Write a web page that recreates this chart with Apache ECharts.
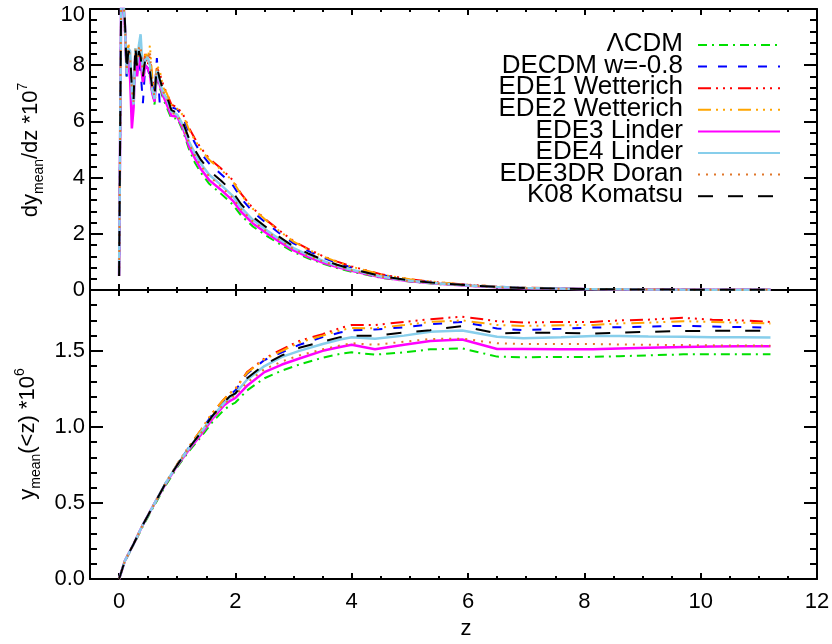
<!DOCTYPE html>
<html>
<head>
<meta charset="utf-8">
<script src="https://cdn.jsdelivr.net/npm/echarts@6/dist/echarts.min.js"></script>
<style>
html, body { margin: 0; padding: 0; background: #ffffff; }
#chart { width: 832px; height: 644px; }
</style>
</head>
<body>
<div id="chart"></div>
<script>
// Model names, in legend order
const modelNames = ['ΛCDM', 'DECDM w=-0.8', 'EDE1 Wetterich', 'EDE2 Wetterich',
  'EDE3 Linder', 'EDE4 Linder', 'EDE3DR Doran', 'K08 Komatsu'];

// Redshift samples of the differential curves (upper panel)
const zDiff = [0.00, 0.04, 0.07, 0.10, 0.13, 0.16, 0.19, 0.22, 0.25, 0.28, 0.31, 0.34, 0.37,
  0.41, 0.45, 0.49, 0.53, 0.57, 0.61, 0.65, 0.70, 0.76, 0.82, 0.90,
  1.00, 1.10, 1.20, 1.30, 1.40, 1.55, 1.75, 1.95, 2.10, 2.30, 2.55, 2.75, 3.00, 3.25, 3.50,
  3.75, 4.00, 4.50, 5.00, 5.50, 6.00, 6.50, 7.00, 8.00, 9.00, 10.00, 11.20];

// dy_mean/dz * 1e7 for each model
const dydzLCDM = [0.5, 11.3, 10.3, 9.3, 7.6, 8.3, 8.2, 7.0, 6.6, 8.5, 7.7, 8.3, 8.1, 7.4, 8.0, 7.9, 7.6, 7.0, 6.6, 7.6, 7.2, 6.8, 6.5, 6.1,
  6.11, 5.65, 5.02, 4.55, 4.19, 3.78, 3.43, 3.05, 2.65, 2.26, 1.91, 1.65, 1.35, 1.13, 0.94, 0.78, 0.65, 0.435, 0.3, 0.21, 0.15, 0.096, 0.06, 0.03, 0.016, 0.009, 0.004];
const dydzDECDM = [0.5, 11.3, 10.2, 9.3, 7.6, 8.3, 8.1, 7.3, 6.9, 8.4, 7.7, 8.1, 7.8, 6.65, 8.0, 7.9, 7.6, 7.3, 7.0, 8.25, 6.6, 7.0, 6.8, 6.5,
  6.43, 6.13, 5.62, 5.25, 4.88, 4.5, 4.13, 3.75, 3.26, 2.78, 2.35, 2.03, 1.66, 1.39, 1.16, 0.96, 0.8, 0.54, 0.36, 0.26, 0.18, 0.12, 0.075, 0.037, 0.019, 0.011, 0.005];
const dydzEDE1 = [0.5, 11.6, 10.8, 9.2, 8.1, 8.7, 8.0, 7.0, 7.3, 8.5, 8.2, 8.6, 8.0, 7.9, 8.4, 8.0, 8.3, 7.5, 7.1, 7.9, 7.7, 7.3, 7.0, 6.6,
  6.5, 6.25, 5.78, 5.4, 5.07, 4.68, 4.33, 3.92, 3.42, 2.91, 2.46, 2.13, 1.74, 1.46, 1.21, 1.01, 0.84, 0.56, 0.38, 0.27, 0.19, 0.12, 0.08, 0.04, 0.02, 0.012, 0.006];
const dydzEDE2 = [0.5, 11.4, 10.6, 9.4, 7.9, 8.8, 8.3, 7.1, 6.9, 8.6, 8.3, 8.7, 8.4, 7.8, 8.5, 8.2, 8.7, 7.6, 7.0, 8.0, 7.8, 7.2, 7.0, 6.6,
  6.45, 6.22, 5.72, 5.35, 5.02, 4.63, 4.29, 3.89, 3.39, 2.89, 2.44, 2.11, 1.72, 1.44, 1.2, 1.0, 0.83, 0.55, 0.38, 0.27, 0.19, 0.12, 0.08, 0.04, 0.02, 0.011, 0.006];
const dydzEDE3 = [0.5, 11.4, 10.3, 9.4, 7.7, 8.2, 7.5, 5.75, 6.5, 8.5, 7.6, 8.3, 8.1, 7.4, 8.0, 7.9, 7.7, 7.0, 6.7, 7.7, 7.3, 6.9, 6.6, 6.2,
  6.17, 5.74, 5.13, 4.7, 4.32, 3.91, 3.57, 3.19, 2.78, 2.37, 2.0, 1.73, 1.41, 1.18, 0.98, 0.82, 0.68, 0.455, 0.31, 0.22, 0.155, 0.1, 0.064, 0.032, 0.016, 0.009, 0.005];
const dydzEDE4 = [0.5, 11.5, 10.4, 9.5, 7.7, 8.6, 8.5, 7.0, 6.6, 8.6, 8.0, 8.7, 9.1, 7.7, 8.2, 8.3, 8.0, 7.1, 6.8, 7.8, 7.4, 7.0, 6.8, 6.35,
  6.24, 5.86, 5.29, 4.88, 4.51, 4.1, 3.74, 3.36, 2.93, 2.5, 2.11, 1.82, 1.49, 1.25, 1.04, 0.86, 0.72, 0.48, 0.33, 0.23, 0.16, 0.105, 0.067, 0.034, 0.017, 0.01, 0.005];
const dydzEDE3DR = [0.5, 11.5, 10.5, 9.5, 7.8, 8.6, 8.3, 7.1, 6.7, 8.6, 8.0, 8.6, 8.7, 7.7, 8.3, 8.2, 8.5, 7.2, 6.9, 7.9, 7.5, 7.05, 6.85, 6.3,
  6.24, 5.83, 5.24, 4.8, 4.44, 4.04, 3.69, 3.29, 2.87, 2.44, 2.07, 1.79, 1.46, 1.22, 1.02, 0.85, 0.7, 0.47, 0.32, 0.23, 0.16, 0.1, 0.066, 0.033, 0.017, 0.009, 0.005];
const dydzK08 = [0.5, 11.5, 10.5, 9.6, 7.8, 8.5, 8.4, 7.2, 6.8, 8.7, 7.9, 8.5, 8.3, 7.6, 8.2, 8.1, 7.8, 7.2, 6.9, 7.95, 7.5, 7.1, 6.9, 6.4,
  6.3, 5.95, 5.4, 5.0, 4.65, 4.25, 3.9, 3.5, 3.05, 2.6, 2.2, 1.9, 1.55, 1.3, 1.08, 0.9, 0.75, 0.5, 0.34, 0.24, 0.17, 0.11, 0.07, 0.035, 0.018, 0.01, 0.005];

// Redshift samples of the cumulative curves (lower panel)
const zCum = [0, 0.1, 0.25, 0.4, 0.6, 0.8, 1.0, 1.2, 1.4, 1.6, 1.8, 1.9, 2.0, 2.2, 2.5, 2.8, 3.1,
  3.5, 3.8, 4.0, 4.4, 4.9, 5.35, 5.9, 6.5, 6.95, 7.6, 8.15, 8.6, 9.1, 9.7, 10.2, 10.7, 11.2];

// y_mean(<z) * 1e6 for each model
const ycumLCDM = [0, 0.115, 0.225, 0.34, 0.48, 0.615, 0.735, 0.84, 0.93, 1.03, 1.11, 1.14, 1.16, 1.24, 1.32,
  1.37, 1.41, 1.455, 1.48, 1.49, 1.475, 1.49, 1.51, 1.516, 1.462, 1.458, 1.46, 1.46, 1.465, 1.47, 1.477, 1.478, 1.478, 1.477];
const ycumDECDM = [0, 0.12, 0.23, 0.35, 0.49, 0.63, 0.75, 0.865, 0.97, 1.08, 1.17, 1.21, 1.24, 1.35, 1.44,
  1.49, 1.54, 1.59, 1.62, 1.635, 1.64, 1.655, 1.675, 1.69, 1.647, 1.636, 1.645, 1.653, 1.655, 1.66, 1.664, 1.66, 1.656, 1.653];
const ycumEDE1 = [0, 0.12, 0.23, 0.35, 0.49, 0.63, 0.755, 0.87, 0.975, 1.09, 1.18, 1.22, 1.25, 1.36, 1.45,
  1.51, 1.565, 1.61, 1.65, 1.67, 1.67, 1.69, 1.708, 1.725, 1.695, 1.686, 1.69, 1.69, 1.70, 1.705, 1.717, 1.705, 1.70, 1.69];
const ycumEDE2 = [0, 0.12, 0.23, 0.35, 0.49, 0.63, 0.755, 0.87, 0.975, 1.09, 1.18, 1.22, 1.25, 1.355, 1.445,
  1.50, 1.555, 1.60, 1.635, 1.65, 1.648, 1.67, 1.69, 1.70, 1.67, 1.664, 1.668, 1.67, 1.68, 1.685, 1.695, 1.69, 1.685, 1.68];
const ycumEDE3 = [0, 0.12, 0.23, 0.35, 0.49, 0.625, 0.745, 0.85, 0.945, 1.05, 1.14, 1.17, 1.19, 1.27, 1.36,
  1.41, 1.45, 1.50, 1.525, 1.54, 1.51, 1.54, 1.565, 1.575, 1.512, 1.512, 1.51, 1.51, 1.515, 1.52, 1.525, 1.528, 1.53, 1.53];
const ycumEDE4 = [0, 0.12, 0.23, 0.35, 0.49, 0.63, 0.75, 0.86, 0.96, 1.065, 1.155, 1.19, 1.22, 1.31, 1.40,
  1.46, 1.50, 1.545, 1.575, 1.59, 1.58, 1.60, 1.625, 1.634, 1.593, 1.582, 1.59, 1.597, 1.597, 1.595, 1.593, 1.59, 1.589, 1.588];
const ycumEDE3DR = [0, 0.12, 0.23, 0.35, 0.49, 0.63, 0.75, 0.86, 0.955, 1.06, 1.15, 1.18, 1.21, 1.29, 1.38,
  1.43, 1.47, 1.51, 1.535, 1.55, 1.54, 1.56, 1.578, 1.58, 1.55, 1.545, 1.545, 1.545, 1.542, 1.54, 1.538, 1.536, 1.535, 1.534];
const ycumK08 = [0, 0.12, 0.23, 0.35, 0.49, 0.63, 0.75, 0.86, 0.96, 1.07, 1.16, 1.20, 1.22, 1.32, 1.41,
  1.47, 1.52, 1.56, 1.59, 1.60, 1.60, 1.62, 1.636, 1.663, 1.614, 1.62, 1.618, 1.614, 1.62, 1.625, 1.63, 1.632, 1.632, 1.632];

// Tick labels
const zTicks = [0, 2, 4, 6, 8, 10, 12];
const dydzTicks = [0, 2, 4, 6, 8, 10];
const ycumTicks = [0, 0.5, 1.0, 1.5];

const dydzSets = [dydzLCDM, dydzDECDM, dydzEDE1, dydzEDE2, dydzEDE3, dydzEDE4, dydzEDE3DR, dydzK08];
const ycumSets = [ycumLCDM, ycumDECDM, ycumEDE1, ycumEDE2, ycumEDE3, ycumEDE4, ycumEDE3DR, ycumK08];

const FONT = '"Liberation Sans", Arial, Helvetica, sans-serif';
const lineStyles = [
  { color: '#00e000', type: [9, 5, 2, 5], width: 2 },
  { color: '#0000ff', type: [9, 11], width: 2 },
  { color: '#ff0000', type: [13, 5, 2, 5, 2, 5, 2, 6], width: 2 },
  { color: '#ffa500', type: [13, 5, 2, 5, 2, 5, 2, 6], width: 2 },
  { color: '#ff00ff', type: 'solid', width: 2.5 },
  { color: '#87ceeb', type: 'solid', width: 2.5 },
  { color: '#e0762a', type: [2, 6], width: 2 },
  { color: '#000000', type: [15, 15], width: 2 }
];

// minor tick positions between the labelled ones
function minorSteps(min, max, step, majors) {
  const out = [];
  const n = Math.round((max - min) / step);
  for (let i = 0; i <= n; i++) {
    const v = +(min + i * step).toFixed(4);
    if (!majors.some(m => Math.abs(m - v) < 1e-6)) out.push(v);
  }
  return out;
}

const zMinor = minorSteps(-0.5, 12, 0.5, zTicks);
const dydzMinor = minorSteps(0, 10, 0.4, dydzTicks);
const ycumMinor = minorSteps(0, 1.8, 0.1, ycumTicks);

const frame = { show: true, onZero: false, lineStyle: { color: '#000', width: 2 } };
const noLine = { show: false, onZero: false };
const labelFont = { fontSize: 22, fontFamily: FONT, color: '#000' };

function xAxesFor(gridIndex, labelled) {
  const base = { type: 'value', gridIndex, min: -0.5, max: 12, splitLine: { show: false } };
  const axes = [];
  ['bottom', 'top'].forEach(pos => {
    axes.push(Object.assign({}, base, {
      position: pos,
      axisLine: frame,
      axisTick: { show: true, inside: true, length: 6, customValues: zTicks, lineStyle: { color: '#000', width: 2 } },
      axisLabel: Object.assign({ show: labelled && pos === 'bottom', customValues: zTicks, margin: 12,
        showMinLabel: true, showMaxLabel: true }, labelFont)
    }));
    axes.push(Object.assign({}, base, {
      position: pos,
      axisLine: noLine,
      axisTick: { show: true, inside: true, length: 3, customValues: zMinor, lineStyle: { color: '#000', width: 2 } },
      axisLabel: { show: false }
    }));
  });
  return axes;
}

function yAxesFor(gridIndex, min, max, majors, minors, fmt) {
  const base = { type: 'value', gridIndex, min, max, splitLine: { show: false } };
  const axes = [];
  ['left', 'right'].forEach(pos => {
    axes.push(Object.assign({}, base, {
      position: pos,
      axisLine: frame,
      axisTick: { show: true, inside: true, length: 13, customValues: majors, lineStyle: { color: '#000', width: 2 } },
      axisLabel: Object.assign({ show: pos === 'left', customValues: majors, margin: 5, formatter: fmt,
        showMinLabel: true, showMaxLabel: true,
        rich: { top: Object.assign({ padding: [12, 0, 0, 0] }, labelFont) } }, labelFont)
    }));
    axes.push(Object.assign({}, base, {
      position: pos,
      axisLine: noLine,
      axisTick: { show: true, inside: true, length: 7, customValues: minors, lineStyle: { color: '#000', width: 2 } },
      axisLabel: { show: false }
    }));
  });
  return axes;
}

const series = [];
modelNames.forEach((name, k) => {
  series.push({
    name, type: 'line', xAxisIndex: 0, yAxisIndex: 0, symbol: 'none', clip: true,
    lineStyle: lineStyles[k], itemStyle: { color: lineStyles[k].color },
    data: zDiff.map((z, i) => [z, dydzSets[k][i]])
  });
});
modelNames.forEach((name, k) => {
  series.push({
    name, type: 'line', xAxisIndex: 4, yAxisIndex: 4, symbol: 'none', clip: true,
    lineStyle: lineStyles[k], itemStyle: { color: lineStyles[k].color },
    data: zCum.map((z, i) => [z, ycumSets[k][i]])
  });
});

// Legend key: names right-aligned, line samples to their right
const legendGraphics = [];
modelNames.forEach((name, k) => {
  const y = 45 + 21.6 * k;
  legendGraphics.push({
    type: 'text', x: 683, y: y - 1,
    style: { text: name, fontSize: 26, fontFamily: FONT, fill: '#000', align: 'right', verticalAlign: 'middle' }
  });
  legendGraphics.push({
    type: 'line', shape: { x1: 698, y1: y, x2: 780, y2: y },
    style: {
      stroke: lineStyles[k].color, lineWidth: 2,
      lineDash: Array.isArray(lineStyles[k].type) ? lineStyles[k].type : null
    }
  });
});

const titleRich = {
  m: { fontSize: 22, fontFamily: FONT, fill: '#000', lineHeight: 30 },
  s: { fontSize: 14, fontFamily: FONT, fill: '#000', lineHeight: 14, verticalAlign: 'bottom' },
  p: { fontSize: 14, fontFamily: FONT, fill: '#000', lineHeight: 14, verticalAlign: 'top' }
};

const chart = echarts.init(document.getElementById('chart'), null, { renderer: 'canvas' });
chart.setOption({
  animation: false,
  backgroundColor: '#ffffff',
  grid: [
    { left: 90, right: 15, top: 9, height: 281, outerBoundsMode: 'none', containLabel: false },
    { left: 90, right: 15, top: 290, height: 289, outerBoundsMode: 'none', containLabel: false }
  ],
  xAxis: xAxesFor(0, false).concat(xAxesFor(1, true)),
  yAxis: yAxesFor(0, 0, 10, dydzTicks, dydzMinor, v => (v === 10 ? '{top|10}' : String(v)))
    .concat(yAxesFor(1, 0, 1.9, ycumTicks, ycumMinor, v => v.toFixed(1))),
  graphic: [
    {
      type: 'text', x: 31, y: 150, rotation: Math.PI / 2,
      style: { text: '{m|dy}{s|mean}{m|/dz *10}{p|7}', align: 'center', verticalAlign: 'middle', rich: titleRich }
    },
    {
      type: 'text', x: 28, y: 434, rotation: Math.PI / 2,
      style: { text: '{m|y}{s|mean}{m|(<z) *10}{p|6}', align: 'center', verticalAlign: 'middle', rich: titleRich }
    },
    {
      type: 'text', x: 466, y: 629,
      style: { text: 'z', fontSize: 22, fontFamily: FONT, fill: '#000', align: 'center', verticalAlign: 'middle' }
    }
  ].concat(legendGraphics),
  series
});
</script>
</body>
</html>
